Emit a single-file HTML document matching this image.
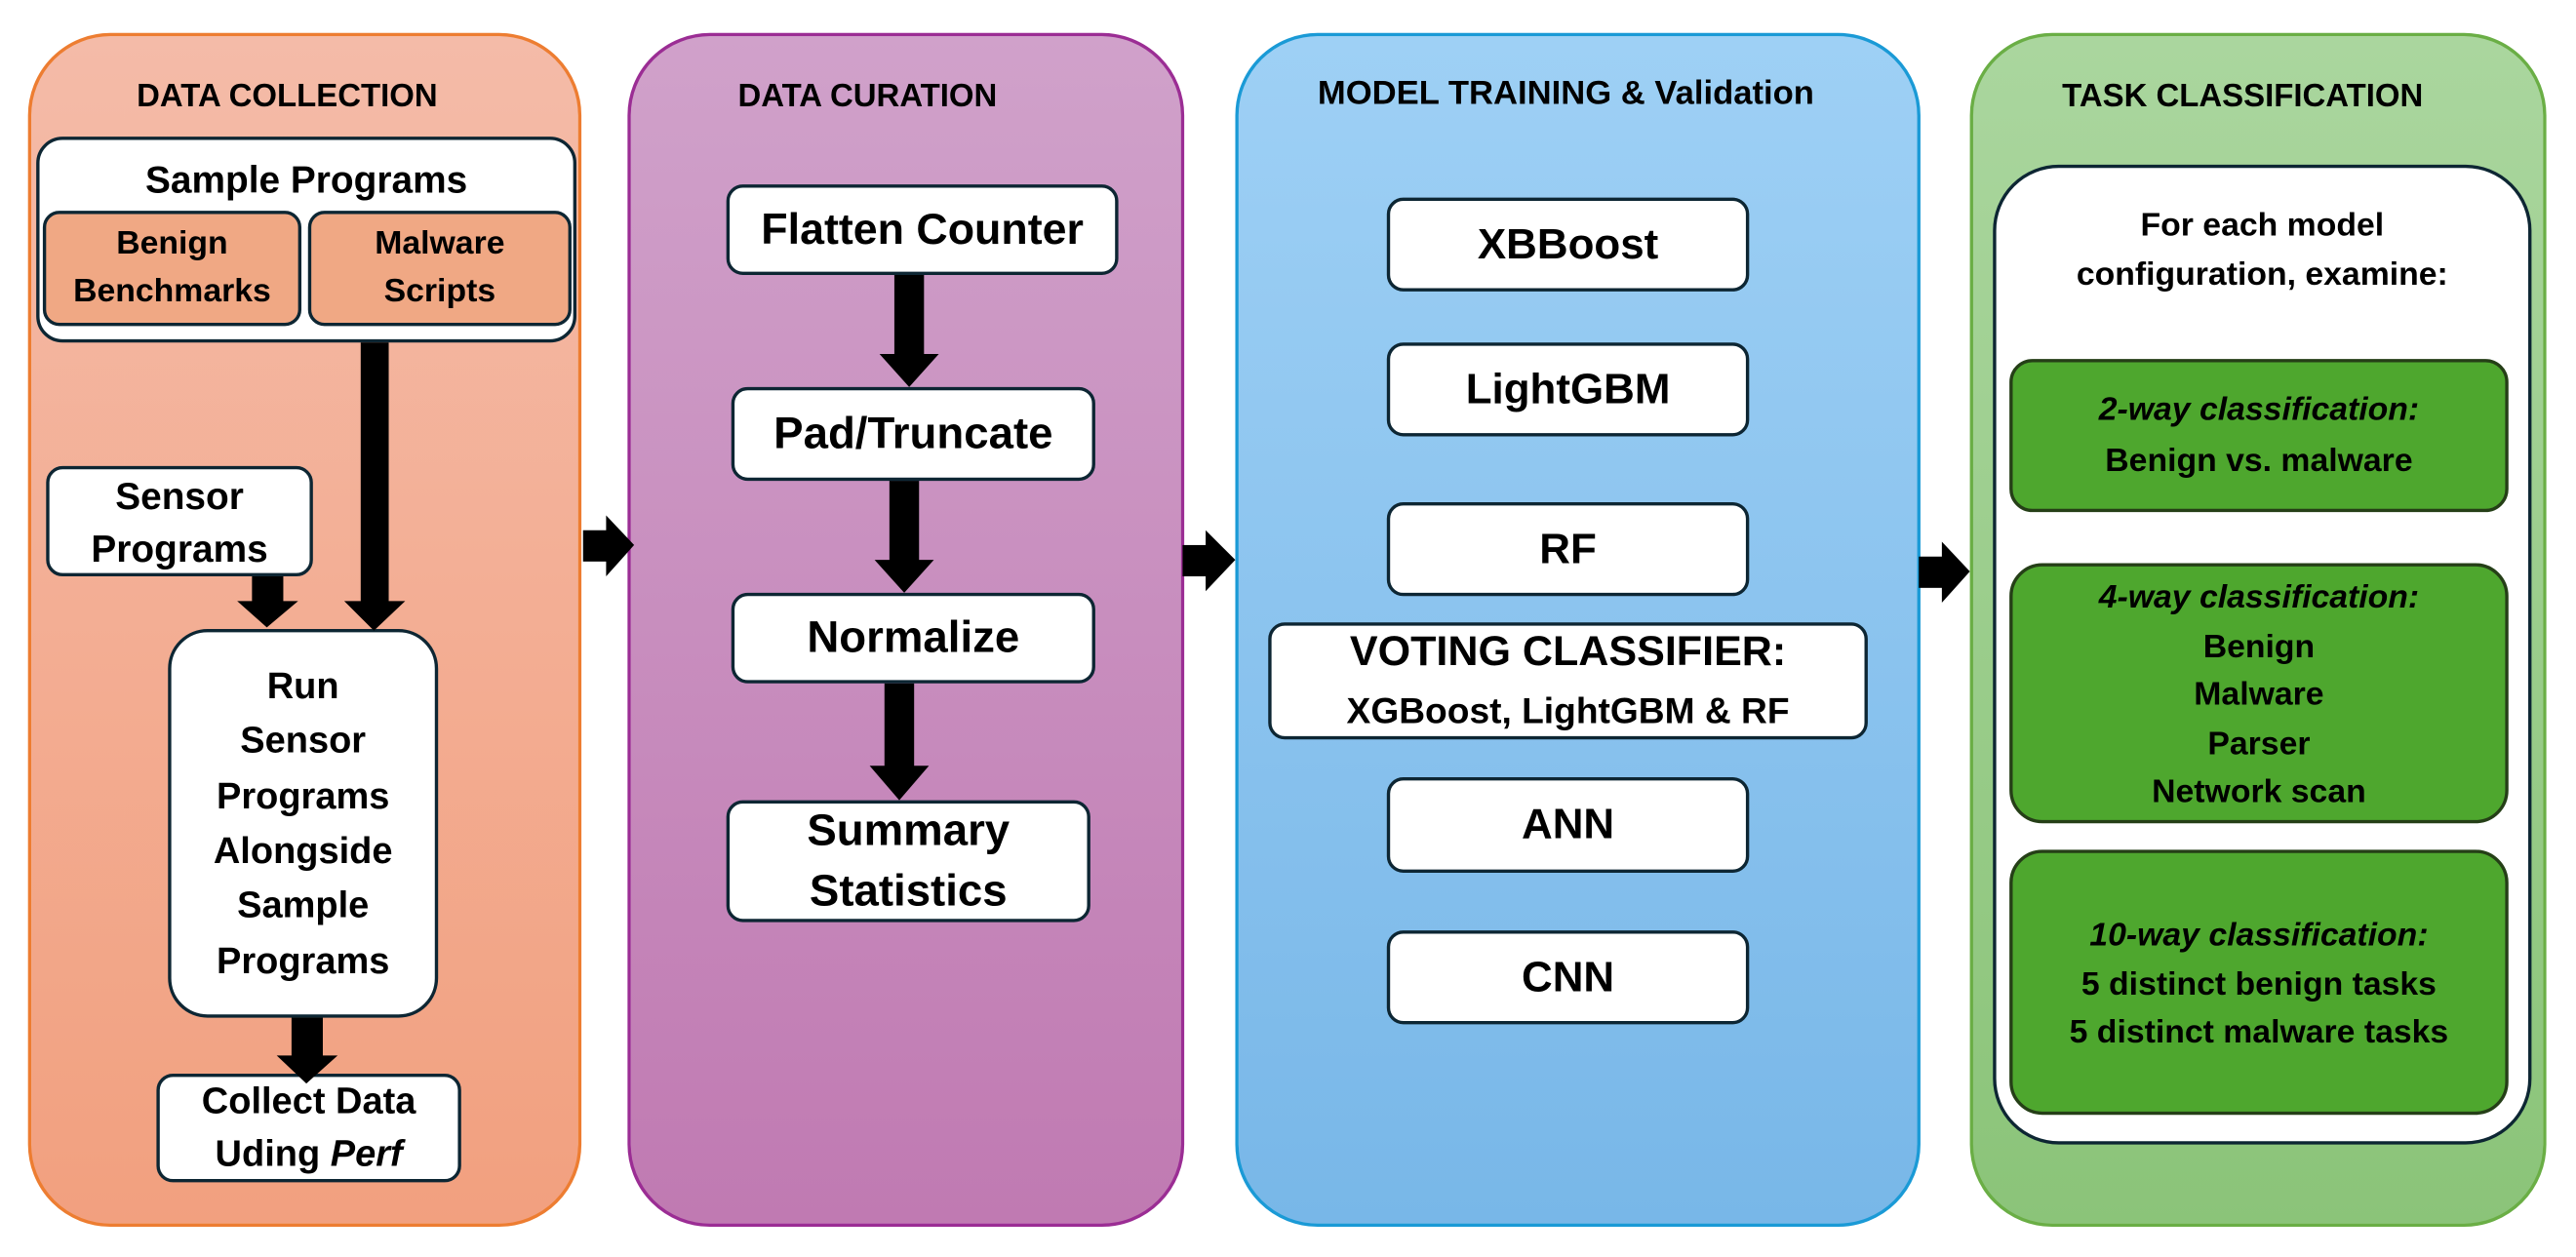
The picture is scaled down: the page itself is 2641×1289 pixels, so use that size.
<!DOCTYPE html>
<html><head><meta charset="utf-8">
<style>
html,body{margin:0;padding:0;background:#fff;width:2641px;height:1289px;overflow:hidden}
#s{position:absolute;left:0;top:0;width:1564px;height:763px;transform:scale(1.68862);transform-origin:0 0;font-family:"Liberation Sans",Arial,sans-serif;font-weight:bold;color:#000}
.p{position:absolute;top:20px;height:725px;border-radius:50px;box-sizing:border-box}
.t{position:absolute;font-size:19.5px;white-space:nowrap;transform:translateY(-50%)}
.b{position:absolute;box-sizing:border-box;background:#fff;border:2.5px solid #0d2633;border-radius:10px;display:flex;flex-direction:column;align-items:center;justify-content:center;text-align:center;line-height:1.3;white-space:nowrap}
.a{position:absolute}
.g{background:#4ea72e;border-color:#253f17;font-size:20px;line-height:29.5px}
</style></head><body><div id="s">
<!-- panels -->
<div class="p" style="left:17px;width:336px;background:linear-gradient(#f4bba8,#f2a07f);border:2px solid #ed7d31"></div>
<div class="p" style="left:381px;width:338px;background:linear-gradient(#d0a1ca,#c07ab2);border:2px solid #9b2d94"></div>
<div class="p" style="left:750px;width:416px;background:linear-gradient(#9ed0f5,#78b7e8);border:2px solid #1a9ad6"></div>
<div class="p" style="left:1196px;width:350px;background:linear-gradient(#aad69e,#8bc479);border:2px solid #6aae45"></div>

<div class="t" style="left:83px;top:59px">DATA COLLECTION</div>
<div class="t" style="left:448px;top:59px">DATA CURATION</div>
<div class="t" style="left:800px;top:57px;font-size:20.5px">MODEL TRAINING &amp; Validation</div>
<div class="t" style="left:1252px;top:59px">TASK CLASSIFICATION</div>

<!-- panel 1 -->
<div class="b" style="left:22px;top:83px;width:328px;height:125px;border-radius:16px;justify-content:flex-start;padding-top:10px;font-size:23px">Sample Programs</div>
<div class="b" style="left:26px;top:128px;width:157px;height:70px;background:#f0a884;font-size:20px;line-height:29px">Benign<br>Benchmarks</div>
<div class="b" style="left:187px;top:128px;width:160px;height:70px;background:#f0a884;font-size:20px;line-height:29px">Malware<br>Scripts</div>
<div class="b" style="left:28px;top:283px;width:162px;height:67px;font-size:23px;line-height:32px">Sensor<br>Programs</div>
<div class="b" style="left:102px;top:382px;width:164px;height:236px;border-radius:24px;font-size:22.5px;line-height:33.3px">Run<br>Sensor<br>Programs<br>Alongside<br>Sample<br>Programs</div>
<div class="b" style="left:95px;top:652px;width:185px;height:66px;font-size:22.5px;line-height:32px">Collect Data<br><span>Uding <i>Perf</i></span></div>

<svg class="a" style="left:0;top:0" width="1564" height="763">
<g fill="#000">
<rect x="219" y="208" width="17" height="158"/><polygon points="209,365 246,365 227,383"/>
<rect x="153" y="350" width="19" height="16"/><polygon points="144,365 181,365 162,381"/>
<rect x="177" y="618" width="19" height="24"/><polygon points="168,641 205,641 186,658"/>
<rect x="543" y="167" width="18" height="49"/><polygon points="534,215 570,215 552,235"/>
<rect x="540" y="292" width="18" height="49"/><polygon points="531,340 567,340 549,360"/>
<rect x="537" y="415" width="18" height="51"/><polygon points="528,465 564,465 546,486"/>
<rect x="354" y="322" width="15" height="19"/><polygon points="368,313 368,350 385,331"/>
<rect x="718" y="331" width="15" height="19"/><polygon points="732,322 732,359 750,340"/>
<rect x="1165" y="338" width="15" height="19"/><polygon points="1179,329 1179,366 1196,347"/>
</g></svg>

<!-- panel 2 -->
<div class="b" style="left:441px;top:112px;width:238px;height:55px;font-size:26.5px">Flatten Counter</div>
<div class="b" style="left:444px;top:235px;width:221px;height:57px;font-size:27px">Pad/Truncate</div>
<div class="b" style="left:444px;top:360px;width:221px;height:55px;font-size:27px">Normalize</div>
<div class="b" style="left:441px;top:486px;width:221px;height:74px;font-size:27px;line-height:37px">Summary<br>Statistics</div>

<!-- panel 3 -->
<div class="b" style="left:842px;top:120px;width:220px;height:57px;font-size:26px">XBBoost</div>
<div class="b" style="left:842px;top:208px;width:220px;height:57px;font-size:26px">LightGBM</div>
<div class="b" style="left:842px;top:305px;width:220px;height:57px;font-size:26px">RF</div>
<div class="b" style="left:770px;top:378px;width:364px;height:71px;line-height:36px"><span style="font-size:25.5px">VOTING CLASSIFIER:</span><span style="font-size:22px">XGBoost, LightGBM &amp; RF</span></div>
<div class="b" style="left:842px;top:472px;width:220px;height:58px;font-size:26px">ANN</div>
<div class="b" style="left:842px;top:565px;width:220px;height:57px;font-size:26px">CNN</div>

<!-- panel 4 -->
<div class="b" style="left:1210px;top:100px;width:327px;height:595px;border-radius:40px;justify-content:flex-start;padding-top:20px;font-size:20px;line-height:30px">For each model<br>configuration, examine:</div>
<div class="b g" style="left:1220px;top:218px;width:303px;height:93px;border-radius:14px;line-height:31px"><i>2-way classification:</i>Benign vs. malware</div>
<div class="b g" style="left:1220px;top:342px;width:303px;height:158px;border-radius:20px;justify-content:flex-start;padding-top:5px"><i>4-way classification:</i>Benign<br>Malware<br>Parser<br>Network scan</div>
<div class="b g" style="left:1220px;top:516px;width:303px;height:161px;border-radius:20px;justify-content:flex-start;padding-top:36px"><i>10-way classification:</i>5 distinct benign tasks<br>5 distinct malware tasks</div>
</div></body></html>
